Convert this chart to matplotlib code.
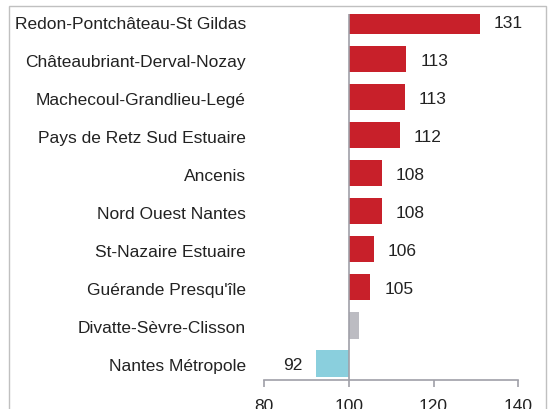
import matplotlib.pyplot as plt
import matplotlib.transforms as mtransforms
from matplotlib.patches import Rectangle

plt.rcParams["font.family"] = ["Liberation Sans", "DejaVu Sans"]

# territories, top to bottom
names = ["Redon-Pontchâteau-St Gildas", "Châteaubriant-Derval-Nozay",
         "Machecoul-Grandlieu-Legé", "Pays de Retz Sud Estuaire", "Ancenis",
         "Nord Ouest Nantes", "St-Nazaire Estuaire", "Guérande Presqu'île",
         "Divatte-Sèvre-Clisson", "Nantes Métropole"]
values = [131.0, 113.6, 113.3, 112.1, 107.8, 107.8, 106.0, 105.1, 102.3, 92.3]
labels = ["131", "113", "113", "112", "108", "108", "106", "105", "", "92"]
colors = ["#c8202a"] * 8 + ["#bcbcc2", "#8acfdd"]

xticks = [80, 100, 120, 140]

fig = plt.figure(figsize=(5.48, 4.09), dpi=100)
ax = fig.add_axes([264 / 548, 29 / 409, 254.3 / 548, 366 / 409])

pos = list(range(len(names)))
widths = [v - 100 for v in values]
ax.barh(pos, widths, left=100, height=0.71, color=colors)

for p, v, lab in zip(pos, values, labels):
    if not lab:
        continue
    if v >= 100:
        ax.annotate(lab, (v, p), xytext=(10, -1.5), textcoords="offset points",
                    ha="left", va="center", fontsize=12.5, color="#222222")
    else:
        ax.annotate(lab, (v, p), xytext=(-10, -1.5), textcoords="offset points",
                    ha="right", va="center", fontsize=12.5, color="#222222")

ax.set_xlim(80, 140)
ax.set_ylim(9.447, -0.184)
ax.axvline(100, color="#a0a0a8", lw=1.2)

for s in ["top", "right", "left"]:
    ax.spines[s].set_visible(False)
ax.spines["bottom"].set_color("#a0a0a8")
ax.spines["bottom"].set_linewidth(1.2)

ax.set_xticks(xticks)
ax.set_xticklabels([str(t) for t in xticks])
ax.tick_params(axis="x", direction="out", length=5, width=1.2, color="#a0a0a8",
               labelsize=12.5, labelcolor="#222222", pad=9)
ax.set_yticks(pos)
ax.set_yticklabels(names)
ax.tick_params(axis="y", length=0, pad=13, labelsize=12.5, labelcolor="#222222")

# nudge category labels down a little
shift = mtransforms.ScaledTranslation(0, -1.5 / 72, fig.dpi_scale_trans)
for t in ax.get_yticklabels():
    t.set_transform(t.get_transform() + shift)

# outer frame
fig.patches.append(Rectangle((9 / 548, -0.1), 537 / 548, 1.1 - 6 / 409,
                             transform=fig.transFigure, fill=False,
                             edgecolor="#c0c0c0", lw=1))

plt.savefig("out.png", dpi=100)
